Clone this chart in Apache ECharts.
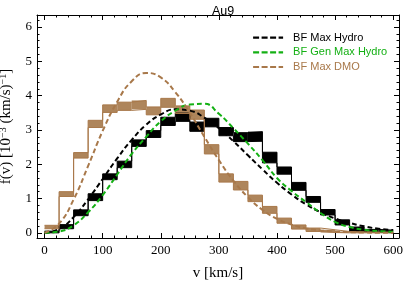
<!DOCTYPE html>
<html>
<head>
<meta charset="utf-8">
<script src="https://cdn.jsdelivr.net/npm/echarts@6/dist/echarts.min.js"></script>
<style>html,body{margin:0;padding:0;background:#fff}#c{width:405px;height:283px}</style>
</head>
<body>
<div id="c"></div>
<script>
// bin edges (km/s)
var binEdges = [0,25,50,75,100,125,150,175,200,225,250,275,300,325,350,375,400,425,450,475,500,525,550,575,600];
// Hydro histogram band (lower / upper), 10^-3 (km/s)^-1
var hydroLo = [0.00,0.12,0.50,0.94,1.55,1.90,2.52,2.78,3.13,3.25,2.96,3.09,2.83,2.66,2.67,2.04,1.71,1.24,0.89,0.52,0.23,0.04,0.02,0.00];
var hydroHi = [0.05,0.24,0.67,1.14,1.72,2.09,2.71,2.98,3.37,3.49,3.23,3.34,3.07,2.92,2.95,2.35,1.92,1.47,1.06,0.68,0.38,0.17,0.10,0.08];
// DMO histogram band
var dmoLo = [0.12,1.06,2.18,3.07,3.51,3.57,3.60,3.44,3.66,3.48,3.31,2.30,1.48,1.25,0.91,0.57,0.28,0.11,0.04,0.01,0.00,0.00,0.00,0.00];
var dmoHi = [0.22,1.20,2.34,3.28,3.73,3.81,3.86,3.67,3.92,3.70,3.58,2.57,1.72,1.50,1.10,0.77,0.43,0.23,0.14,0.09,0.04,0.03,0.02,0.02];
// fitted curves
var vCurve = [0,25,50,75,100,125,150,175,200,225,250,275,300,325,350,375,400,425,450,475,500,525,550,575,600];
var maxHydro = [0,0.11,0.46,0.98,1.57,2.17,2.71,3.15,3.45,3.60,3.56,3.36,3.05,2.67,2.26,1.85,1.46,1.12,0.83,0.60,0.42,0.29,0.19,0.12,0.08];
var genMaxHydro = [0,0.04,0.22,0.60,1.10,1.70,2.30,2.80,3.25,3.56,3.74,3.76,3.47,3.05,2.60,2.12,1.60,1.22,0.90,0.58,0.32,0.17,0.09,0.05,0.03];
var maxDMO = [0,0.27,0.97,1.95,2.97,3.82,4.42,4.66,4.53,4.10,3.50,2.80,2.12,1.52,1.04,0.67,0.41,0.24,0.13,0.07,0.04,0.02,0.01,0.00,0.00];
var legendNames = ['BF Max Hydro','BF Gen Max Hydro','BF Max DMO'];

var BROWN = '#a8784a';
var BROWN_FILL = 'rgba(160,112,62,0.85)';
var GREEN = '#14b014';
var SERIF = 'Liberation Serif';
var SANS = 'Liberation Sans';

function bandData(lo, hi){
  return lo.map(function(l,i){ return [binEdges[i], binEdges[i+1], l, hi[i]]; });
}
function stepData(vals){
  return binEdges.map(function(e,i){ return [e, vals[Math.min(i, vals.length-1)]]; });
}
function pairs(xs, ys){ return xs.map(function(x,i){ return [x, ys[i]]; }); }
function bandSeries(lo, hi, fill){
  return {
    type:'custom', silent:true, z:2,
    encode:{x:[0,1], y:[2,3]},
    data: bandData(lo, hi),
    renderItem: function(params, api){
      var p0 = api.coord([api.value(0), api.value(3)]);
      var p1 = api.coord([api.value(1), api.value(2)]);
      return {type:'rect', shape:{x:p0[0], y:p0[1], width:p1[0]-p0[0], height:p1[1]-p0[1]}, style:{fill:fill}};
    }
  };
}
function stepSeries(vals, color, z){
  return {type:'line', step:'end', data:stepData(vals), symbol:'none', silent:true, z:z,
    lineStyle:{color:color, width:1}};
}
function curve(name, ys, color){
  return {name:name, type:'line', smooth:true, data:pairs(vCurve, ys), symbol:'none', z:5,
    itemStyle:{color:color},
    lineStyle:{color:color, width:2, type:[5,3]}};
}

var tickBase = {show:true, inside:true, length:5, lineStyle:{color:'#000', width:1}};
var minorBase = {show:true, length:2.5, lineStyle:{color:'#000', width:1}};
var xCommon = {type:'value', min:-13, max:610, splitNumber:6,
  axisLine:{show:true, onZero:false, lineStyle:{color:'#000', width:1}},
  axisTick:tickBase, minorTick:Object.assign({splitNumber:5}, minorBase), splitLine:{show:false}, minorSplitLine:{show:false}};
var yCommon = {type:'value', min:-0.15, max:6.35, splitNumber:6,
  axisLine:{show:true, onZero:false, lineStyle:{color:'#000', width:1}},
  axisTick:tickBase, minorTick:Object.assign({splitNumber:5}, minorBase), splitLine:{show:false}, minorSplitLine:{show:false}};

var chart = echarts.init(document.getElementById('c'), null, {renderer:'canvas'});
chart.setOption({
  animation:false,
  backgroundColor:'#fff',
  title:{text:'Au9', left:'218', textAlign:'center', top:0, textStyle:{fontFamily:SANS, fontSize:12.5, fontWeight:'normal', color:'#000'}},
  grid:{left:37, right:6, top:15, bottom:45, containLabel:false, outerBoundsMode:'none'},
  legend:{
    data:[
      {name:legendNames[0], textStyle:{color:'#000'}},
      {name:legendNames[1], textStyle:{color:GREEN}},
      {name:legendNames[2], textStyle:{color:BROWN}}
    ],
    orient:'vertical', left:247, top:27, itemWidth:30, itemHeight:14, itemGap:3.5,
    itemStyle:{opacity:0},
    lineStyle:{width:2.2, type:[6,2.5]},
    textStyle:{fontFamily:SANS, fontSize:11, padding:[0,0,0,5]}
  },
  xAxis:[
    Object.assign({}, xCommon, {position:'bottom', name:'v [km/s]', nameLocation:'middle', nameGap:28,
      nameTextStyle:{fontFamily:SERIF, fontSize:15, color:'#000'},
      axisLabel:{fontFamily:SERIF, fontSize:13, color:'#000', margin:6, showMinLabel:false, showMaxLabel:false}}),
    Object.assign({}, xCommon, {position:'top', axisLabel:{show:false}})
  ],
  yAxis:[
    Object.assign({}, yCommon, {position:'left',
      name:'{a|f(v) [10}{s|−3}{a| (km/s)}{s|−1}{a|]}', nameLocation:'middle', nameRotate:90, nameGap:22,
      nameTextStyle:{rich:{a:{fontFamily:SERIF, fontSize:15, color:'#000'}, s:{fontFamily:SERIF, fontSize:10, color:'#000', padding:[0,0,7,0]}}},
      axisLabel:{fontFamily:SERIF, fontSize:13, color:'#000', margin:5, showMinLabel:false, showMaxLabel:false}}),
    Object.assign({}, yCommon, {position:'right', axisLabel:{show:false}})
  ],
  series:[
    bandSeries(hydroLo, hydroHi, '#000'),
    stepSeries(hydroLo, '#000', 3),
    stepSeries(hydroHi, '#000', 3),
    bandSeries(dmoLo, dmoHi, BROWN_FILL),
    stepSeries(dmoLo, BROWN, 3),
    stepSeries(dmoHi, BROWN, 3),
    curve(legendNames[0], maxHydro, '#000'),
    curve(legendNames[1], genMaxHydro, GREEN),
    curve(legendNames[2], maxDMO, BROWN)
  ]
});
</script>
</body>
</html>
